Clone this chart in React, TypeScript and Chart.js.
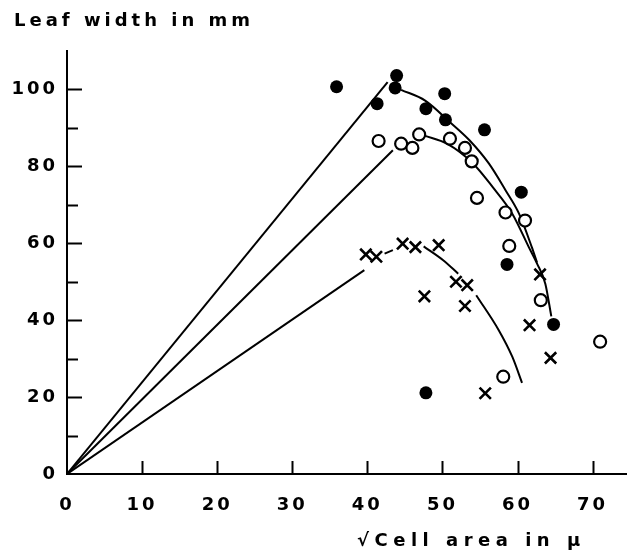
import { useEffect, useRef } from 'react';
import { Chart, registerables } from 'chart.js';
Chart.register(...registerables);

// Axis ticks
const xTickValues = [0, 10, 20, 30, 40, 50, 60, 70];
const yTickMarks = [0, 10, 20, 30, 40, 50, 60, 70, 80, 90, 100];
const yTickValues = [0, 20, 40, 60, 80, 100];

// Filled circles (●)
const filledX = [35.9, 41.3, 43.7, 43.9, 47.8, 50.3, 50.4, 55.6, 60.5, 58.6, 64.8, 47.8];
const filledY = [100.7, 96.3, 100.4, 103.6, 95.0, 98.9, 92.1, 89.5, 73.3, 54.5, 38.9, 21.1];

// Open circles (○)
const openX = [41.5, 44.5, 46.0, 46.9, 51.0, 53.0, 53.9, 54.6, 58.4, 61.0, 58.9, 63.1, 71.0, 58.1];
const openY = [86.6, 85.9, 84.8, 88.3, 87.2, 84.8, 81.3, 71.8, 68.0, 65.9, 59.3, 45.2, 34.4, 25.3];

// Crosses (×)
const crossX = [39.8, 41.2, 44.7, 46.4, 49.5, 51.8, 53.3, 53.0, 47.6, 63.0, 61.6, 64.4, 55.7];
const crossY = [57.1, 56.5, 59.9, 59.0, 59.5, 50.0, 49.1, 43.7, 46.2, 51.9, 38.7, 30.2, 21.0];

// Fitted curves
const filledRiseX = [0, 42.7];
const filledRiseY = [0, 101.9];
const filledFallX = [44.5, 47.7, 51.0, 53.6, 56.2, 58.4, 60.2, 61.9, 62.6];
const filledFallY = [99.9, 97.1, 91.5, 86.8, 80.7, 73.8, 67.7, 59.0, 55.0];

const openRiseX = [0, 43.4];
const openRiseY = [0, 84.2];
const openFallX = [47.6, 50.6, 54.1, 56.7, 59.3, 61.5, 62.6, 63.7, 64.5];
const openFallY = [88.0, 85.9, 80.7, 74.6, 67.7, 59.0, 54.7, 49.5, 41.0];

const crossRiseX = [0, 39.6];
const crossRiseY = [0, 53.0];
const crossDashX = [42.3, 43.4];
const crossDashY = [57.3, 58.2];
const crossFallAX = [47.5, 50.1, 52.1];
const crossFallAY = [59.2, 55.6, 52.1];
const crossFallBX = [54.5, 57.5, 59.3, 60.6];
const crossFallBY = [46.5, 37.4, 30.5, 23.7];

const yAxisTitle = 'Leaf width in mm';
const xAxisTitle = '√Cell area in µ';

const FONT = '"DejaVu Sans", sans-serif';

const pts = (xs: number[], ys: number[]) => xs.map((x, i) => ({ x, y: ys[i] }));

const lineDs = (xs: number[], ys: number[], curved: boolean) => ({
  data: pts(xs, ys),
  showLine: true,
  borderColor: '#000',
  borderWidth: 2,
  pointRadius: 0,
  fill: false,
  tension: curved ? 0.4 : 0,
  cubicInterpolationMode: curved ? 'monotone' : 'default',
});

const decor = {
  id: 'decor',
  beforeDraw(chart: any) {
    chart.ctx.letterSpacing = '3px';
  },
  afterDraw(chart: any) {
    const { ctx, chartArea, scales } = chart;
    ctx.save();
    ctx.strokeStyle = '#000';
    ctx.lineWidth = 2;
    ctx.lineCap = 'butt';
    const ys = scales.y;
    for (const t of ys.ticks) {
      const v = t.value;
      if (v <= 0 || v > 100) continue;
      const len = v % 20 === 0 ? 15 : 11;
      const py = Math.round(ys.getPixelForValue(v)) + 0.5;
      ctx.beginPath();
      ctx.moveTo(chartArea.left, py);
      ctx.lineTo(chartArea.left + len, py);
      ctx.stroke();
    }
    const xs = scales.x;
    for (const t of xs.ticks) {
      const v = t.value;
      if (v <= 0) continue;
      const px = Math.round(xs.getPixelForValue(v)) + 0.5;
      ctx.beginPath();
      ctx.moveTo(px, chartArea.bottom);
      ctx.lineTo(px, chartArea.bottom - 13);
      ctx.stroke();
    }
    ctx.fillStyle = '#000';
    ctx.font = `bold 18px ${FONT}`;
    ctx.letterSpacing = '4px';
    ctx.textAlign = 'left';
    ctx.textBaseline = 'alphabetic';
    ctx.fillText(yAxisTitle, 14, 26);
    ctx.letterSpacing = '5.5px';
    ctx.fillText(xAxisTitle, 357, 546);
    ctx.restore();
  },
};

export default function App() {
  const ref = useRef<HTMLCanvasElement | null>(null);
  useEffect(() => {
    document.body.style.margin = '0';
    const canvas = ref.current!;
    const chart = new Chart(canvas, {
      type: 'scatter',
      data: {
        datasets: [
          {
            data: pts(filledX, filledY),
            pointStyle: 'circle',
            pointRadius: 6.5,
            backgroundColor: '#000',
            borderColor: '#000',
            borderWidth: 0,
          },
          {
            data: pts(openX, openY),
            pointStyle: 'circle',
            pointRadius: 6,
            backgroundColor: '#fff',
            borderColor: '#000',
            borderWidth: 2.2,
          },
          {
            data: pts(crossX, crossY),
            pointStyle: 'crossRot',
            pointRadius: 8,
            backgroundColor: '#000',
            borderColor: '#000',
            borderWidth: 2.6,
          },
          lineDs(filledRiseX, filledRiseY, false),
          lineDs(filledFallX, filledFallY, true),
          lineDs(openRiseX, openRiseY, false),
          lineDs(openFallX, openFallY, true),
          lineDs(crossRiseX, crossRiseY, false),
          lineDs(crossDashX, crossDashY, false),
          lineDs(crossFallAX, crossFallAY, true),
          lineDs(crossFallBX, crossFallBY, true),
        ] as any,
      },
      options: {
        animation: false,
        responsive: false,
        devicePixelRatio: 1,
        layout: { padding: { top: 51, left: 0, right: 0, bottom: 0 } },
        plugins: { legend: { display: false }, tooltip: { enabled: false }, title: { display: false } },
        scales: {
          x: {
            type: 'linear',
            min: 0,
            max: 74.5,
            grid: { display: false, drawTicks: false },
            border: { display: true, color: '#000', width: 2 },
            ticks: {
              color: '#000',
              padding: 21,
              maxRotation: 0,
              autoSkip: false,
              font: { family: FONT, size: 18, weight: 'bold' },
              callback: (v: any) => (xTickValues.includes(Number(v)) ? String(v) : ''),
            },
            afterBuildTicks: (s: any) => {
              s.ticks = xTickValues.map((value) => ({ value }));
            },
            afterFit: (s: any) => {
              s.height = 82;
            },
          },
          y: {
            type: 'linear',
            min: 0,
            max: 110,
            grid: { display: false, drawTicks: false },
            border: { display: true, color: '#000', width: 2 },
            ticks: {
              color: '#000',
              padding: 9,
              autoSkip: false,
              font: { family: FONT, size: 18, weight: 'bold' },
              callback: (v: any) => (yTickValues.includes(Number(v)) ? String(v) : ''),
            },
            afterBuildTicks: (s: any) => {
              s.ticks = yTickMarks.map((value) => ({ value }));
            },
            afterFit: (s: any) => {
              s.width = 67;
            },
          },
        },
      },
      plugins: [decor],
    } as any);
    return () => chart.destroy();
  }, []);
  return (
    <div style={{ width: 637, height: 556, background: '#fff' }}>
      <canvas ref={ref} width={637} height={556} />
    </div>
  );
}
